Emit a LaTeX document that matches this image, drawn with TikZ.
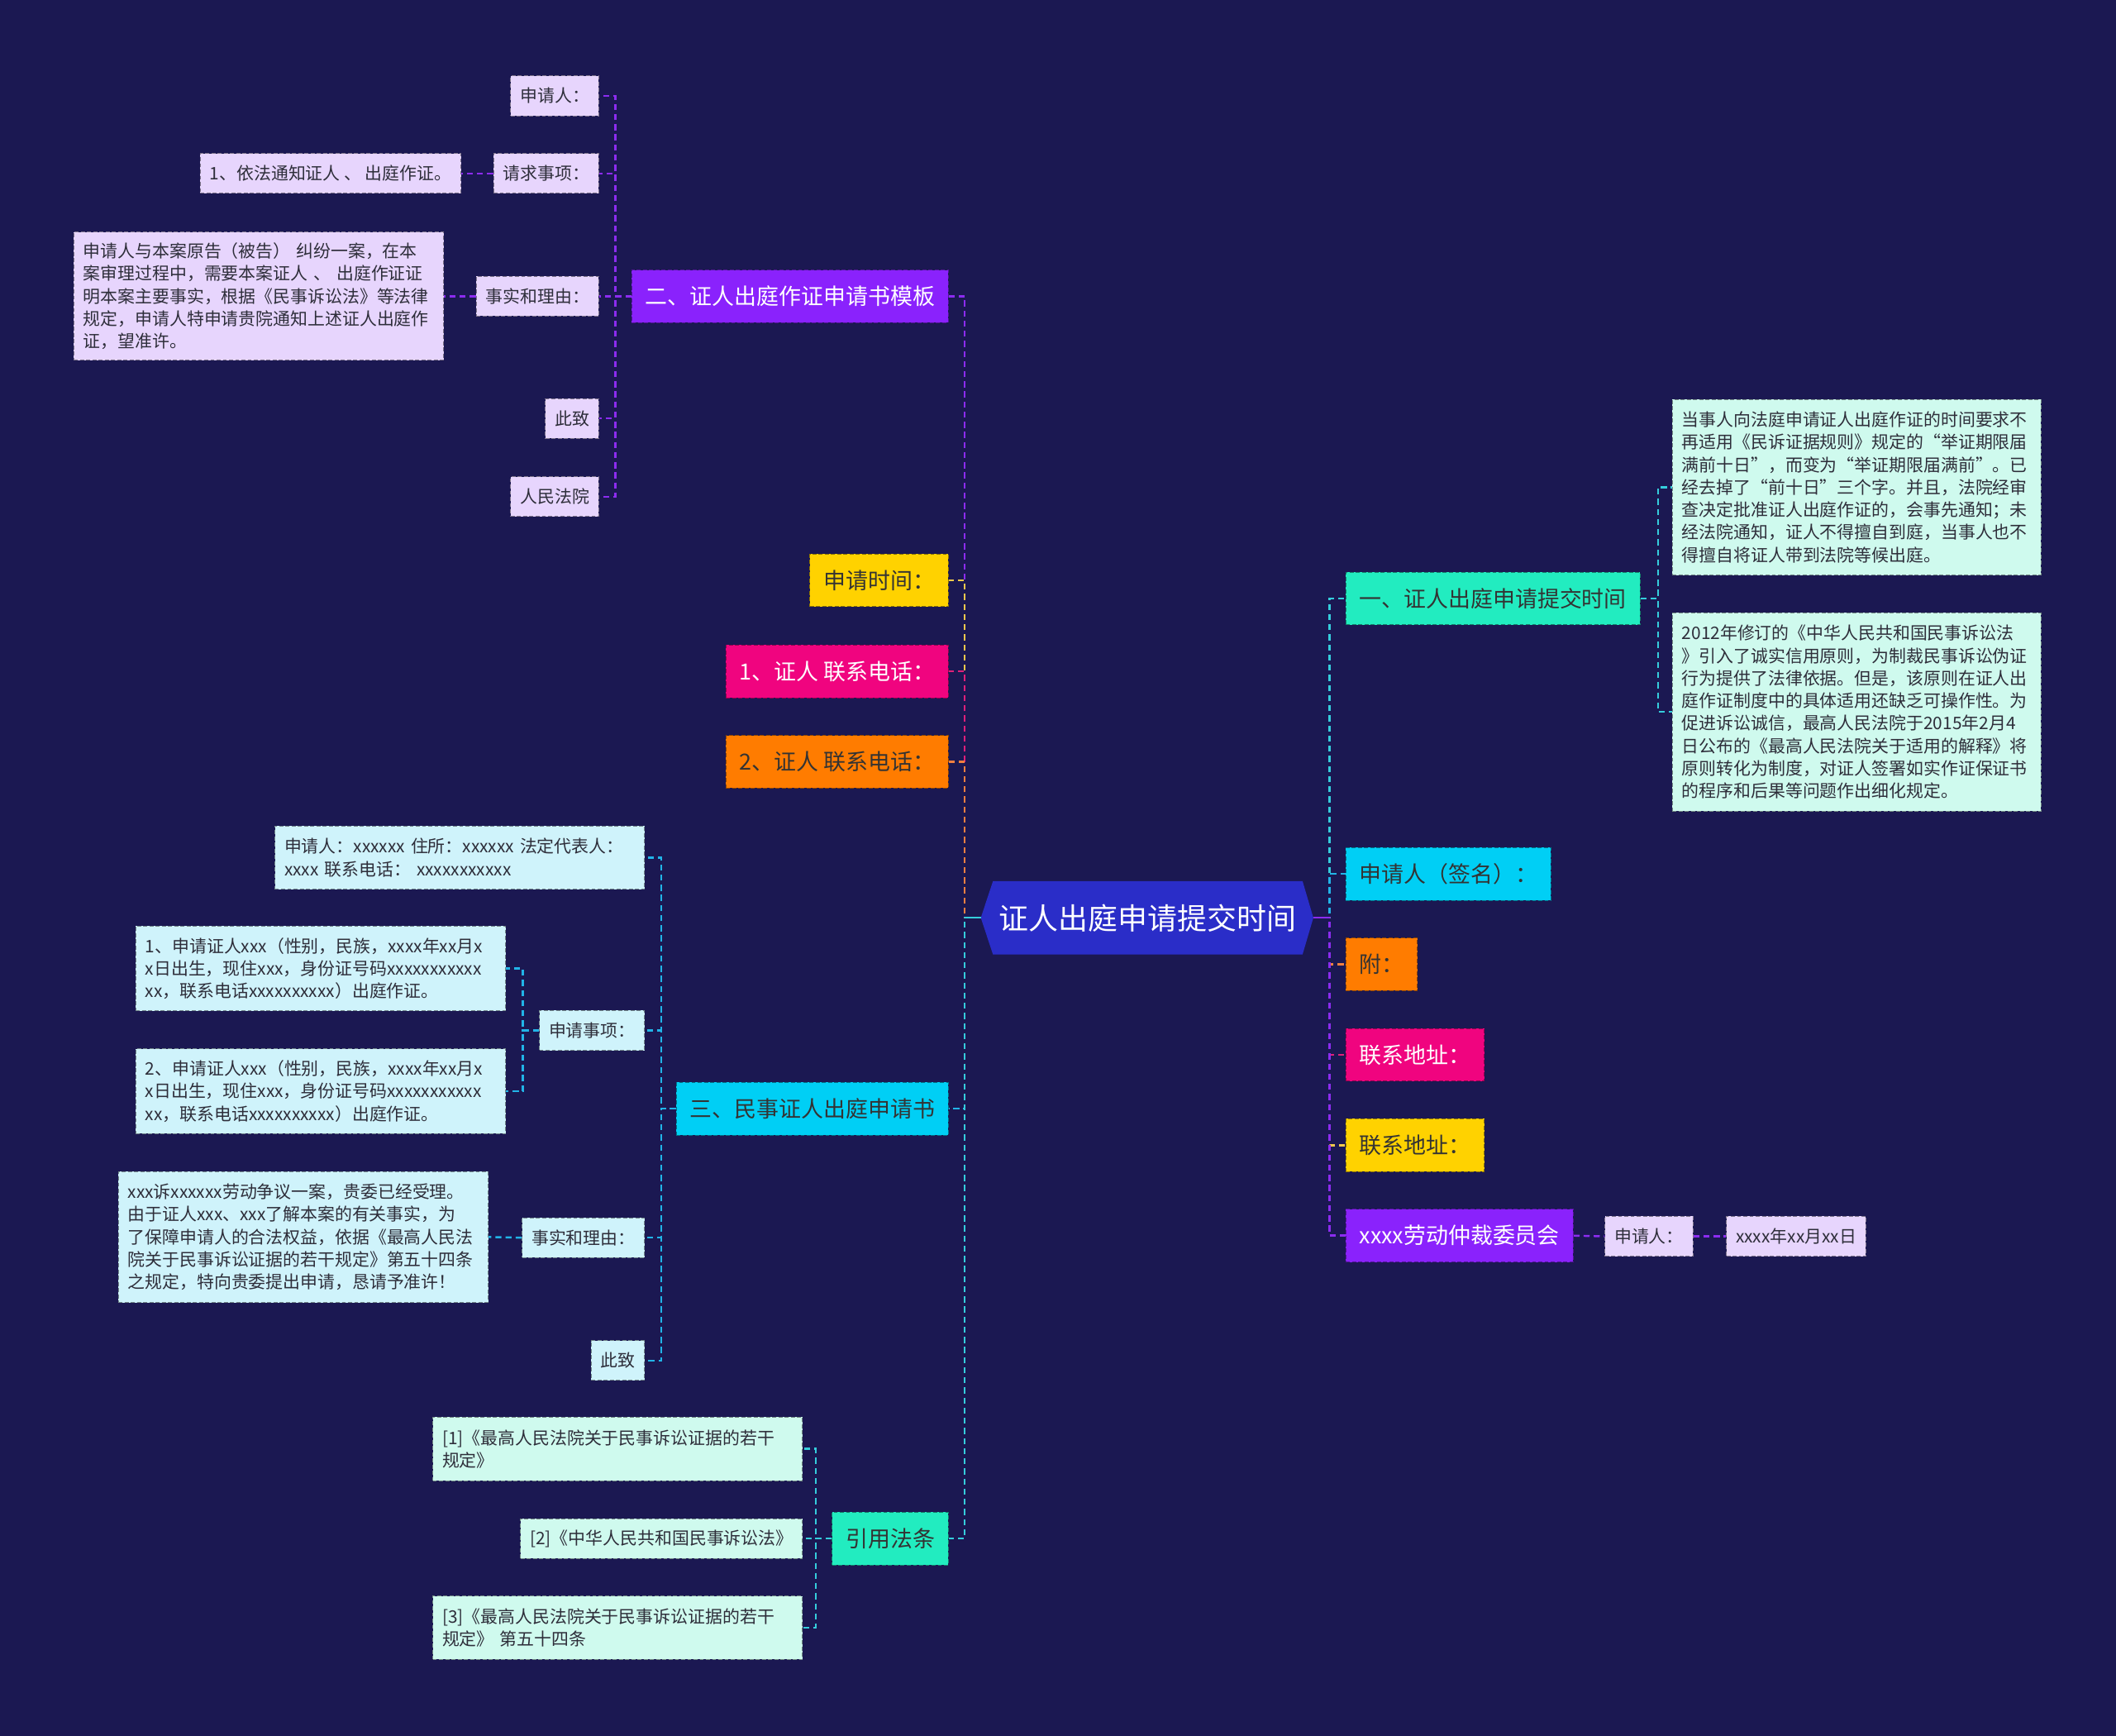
\documentclass[tikz,border=0pt]{standalone}
\usepackage{fontspec}
\setmainfont{Noto Sans CJK SC}
\usetikzlibrary{backgrounds}
\definecolor{bg}{HTML}{1B1852}
\definecolor{rootc}{HTML}{2A2DC8}
\definecolor{cpurple}{HTML}{8A22FC}
\definecolor{cyellow}{HTML}{FFD200}
\definecolor{cpink}{HTML}{F0047F}
\definecolor{corange}{HTML}{FF7C00}
\definecolor{ccyan}{HTML}{00CFF5}
\definecolor{cmint}{HTML}{22ECC0}
\definecolor{lpurple}{HTML}{E7D5FD}
\definecolor{lcyan}{HTML}{CFF3FB}
\definecolor{lmint}{HTML}{CFFAEE}
\definecolor{kpurple}{HTML}{8C2CF0}
\definecolor{kyellow}{HTML}{F2C94C}
\definecolor{kpink}{HTML}{E0207A}
\definecolor{korange}{HTML}{F08040}
\definecolor{kcyan}{HTML}{22B4E8}
\definecolor{kmint}{HTML}{35CDDC}
\definecolor{leaftext}{HTML}{2E2E3A}
\begin{document}
\begin{tikzpicture}[x=1pt,y=-1pt,
  box/.style={rectangle, dash pattern=on 3pt off 1.6pt, line width=0.6pt},
  lone/.style={box, font=\fontsize{16.5}{20}\selectfont, minimum height=39pt, inner xsep=10pt, inner ysep=0pt},
  leaf/.style={box, font=\fontsize{12.8}{16.7}\selectfont, minimum height=29.5pt, inner xsep=7pt, inner ysep=0pt, text=leaftext},
  para/.style={leaf, align=left, text width=#1},
  lp/.style={fill=lpurple, draw=lpurple!55!black},
  lc/.style={fill=lcyan, draw=lcyan!55!black},
  lm/.style={fill=lmint, draw=lmint!55!black},
  conn/.style={line width=1.5pt, dash pattern=on 4.5pt off 3pt},
  rootbox/.style={font=\fontsize{22}{26}\selectfont, text=white, minimum width=229pt, minimum height=54pt, inner sep=0pt}
]
\useasboundingbox (0,0) rectangle (1568,1286);

% ---------- root ----------
\node[rootbox] (root) at (850.5,680) {证人出庭申请提交时间};
\begin{pgfonlayer}{background}
\fill[bg] (0,0) rectangle (1568,1286);
\fill[rootc] (root.north west) -- (root.north east) -- ([xshift=8pt]root.east) -- (root.south east) -- (root.south west) -- ([xshift=-9pt]root.west) -- cycle;
\end{pgfonlayer}
\coordinate (rl) at ([xshift=-9pt]root.west);
\coordinate (rr) at ([xshift=8pt]root.east);

% ---------- left level 1 ----------
\node[lone, fill=cpurple, draw=cpurple!60!black, text=white, anchor=east] (n2) at (703,219.5) {二、证人出庭作证申请书模板};
\node[lone, fill=cyellow, draw=cyellow!55!black, text=black!80, anchor=east] (ntime) at (703,430) {申请时间：};
\node[lone, fill=cpink, draw=cpink!60!black, text=white, anchor=east] (ntel1) at (703,497.5) {1、证人 联系电话：};
\node[lone, fill=corange, draw=corange!55!black, text=black!80, anchor=east] (ntel2) at (703,564.5) {2、证人 联系电话：};
\node[lone, fill=ccyan, draw=ccyan!55!black, text=black!80, anchor=east] (n3) at (703,821.5) {三、民事证人出庭申请书};
\node[lone, fill=cmint, draw=cmint!55!black, text=black!80, anchor=east] (nlaw) at (703,1140) {引用法条};

% ---------- right level 1 ----------
\node[lone, fill=cmint, draw=cmint!55!black, text=black!80, anchor=west] (n1) at (997,443.5) {一、证人出庭申请提交时间};
\node[lone, fill=ccyan, draw=ccyan!55!black, text=black!80, anchor=west] (nsign) at (997,647.5) {申请人（签名）：};
\node[lone, fill=corange, draw=corange!55!black, text=black!80, anchor=west] (natt) at (997,714.5) {附：};
\node[lone, fill=cpink, draw=cpink!60!black, text=white, anchor=west] (naddr1) at (997,781.5) {联系地址：};
\node[lone, fill=cyellow, draw=cyellow!55!black, text=black!80, anchor=west] (naddr2) at (997,848.5) {联系地址：};
\node[lone, fill=cpurple, draw=cpurple!60!black, text=white, anchor=west] (ncomm) at (997,915.5) {xxxx劳动仲裁委员会};

% ---------- purple group (二) ----------
\node[leaf, lp, anchor=east] (p1) at (444,71) {申请人：};
\node[leaf, lp, anchor=east] (p2) at (444,128.5) {请求事项：};
\node[leaf, lp, anchor=east] (p2a) at (342,128.5) {1、依法通知证人 、 出庭作证。};
\node[leaf, lp, anchor=east] (p3) at (444,219.5) {事实和理由：};
\node[para=260pt, lp, minimum height=95pt, anchor=east] (p3a) at (329,219.5) {申请人与本案原告（被告） 纠纷一案，在本\\案审理过程中，需要本案证人 、 出庭作证证\\明本案主要事实，根据《民事诉讼法》等法律\\规定，申请人特申请贵院通知上述证人出庭作\\证，望准许。};
\node[leaf, lp, anchor=east] (p4) at (444,310) {此致};
\node[leaf, lp, anchor=east] (p5) at (444,368) {人民法院};

% ---------- cyan group (三) ----------
\node[para=260pt, lc, minimum height=47pt, anchor=east] (c1) at (478,635.5) {申请人：xxxxxx 住所：xxxxxx 法定代表人：\\xxxx 联系电话： xxxxxxxxxxx};
\node[leaf, lc, anchor=east] (c2) at (478,763.5) {申请事项：};
\node[para=260pt, lc, minimum height=63pt, anchor=east] (c2a) at (375,717.5) {1、申请证人xxx（性别，民族，xxxx年xx月x\\x日出生，现住xxx，身份证号码xxxxxxxxxxx\\xx，联系电话xxxxxxxxxx）出庭作证。};
\node[para=260pt, lc, minimum height=63pt, anchor=east] (c2b) at (375,808.5) {2、申请证人xxx（性别，民族，xxxx年xx月x\\x日出生，现住xxx，身份证号码xxxxxxxxxxx\\xx，联系电话xxxxxxxxxx）出庭作证。};
\node[leaf, lc, anchor=east] (c3) at (478,917) {事实和理由：};
\node[para=260pt, lc, minimum height=97pt, anchor=east] (c3a) at (362,916.5) {xxx诉xxxxxx劳动争议一案，贵委已经受理。\\由于证人xxx、xxx了解本案的有关事实，为\\了保障申请人的合法权益，依据《最高人民法\\院关于民事诉讼证据的若干规定》第五十四条\\之规定，特向贵委提出申请，恳请予准许！};
\node[leaf, lc, anchor=east] (c4) at (478,1008) {此致};

% ---------- mint group (引用法条) ----------
\node[para=260pt, lm, minimum height=47pt, anchor=east] (m1) at (595,1073.5) {[1]《最高人民法院关于民事诉讼证据的若干\\规定》};
\node[leaf, lm, anchor=east] (m2) at (595,1140) {[2]《中华人民共和国民事诉讼法》};
\node[para=260pt, lm, minimum height=47pt, anchor=east] (m3) at (595,1206) {[3]《最高人民法院关于民事诉讼证据的若干\\规定》 第五十四条};

% ---------- right mint group (一) ----------
\node[para=259pt, lm, minimum height=130pt, anchor=west] (r1) at (1239,361) {当事人向法庭申请证人出庭作证的时间要求不\\再适用《民诉证据规则》规定的“举证期限届\\满前十日”，而变为“举证期限届满前”。已\\经去掉了“前十日”三个字。并且，法院经审\\查决定批准证人出庭作证的，会事先通知；未\\经法院通知，证人不得擅自到庭，当事人也不\\得擅自将证人带到法院等候出庭。};
\node[para=259pt, lm, minimum height=147pt, anchor=west] (r2) at (1239,527.5) {2012年修订的《中华人民共和国民事诉讼法\\》引入了诚实信用原则，为制裁民事诉讼伪证\\行为提供了法律依据。但是，该原则在证人出\\庭作证制度中的具体适用还缺乏可操作性。为\\促进诉讼诚信，最高人民法院于2015年2月4\\日公布的《最高人民法院关于适用的解释》将\\原则转化为制度，对证人签署如实作证保证书\\的程序和后果等问题作出细化规定。};

% ---------- right purple chain ----------
\node[leaf, lp, anchor=west] (q1) at (1189,916) {申请人：};
\node[leaf, lp, anchor=west] (q2) at (1279,916) {xxxx年xx月xx日};

% ---------- connectors: root to left ----------
\draw[conn, kpurple] (rl) -- ++(-12,0) |- (n2.east);
\draw[conn, kyellow] (rl) -- ++(-12,0) |- (ntime.east);
\draw[conn, kpink] (rl) -- ++(-12,0) |- (ntel1.east);
\draw[conn, korange] (rl) -- ++(-12,0) |- (ntel2.east);
\draw[conn, kcyan] (rl) -- ++(-12,0) |- (n3.east);
\draw[conn, kmint] (rl) -- ++(-12,0) |- (nlaw.east);
\draw[line width=1.5pt, kmint] (rl) -- ++(-12,0);

% ---------- connectors: root to right ----------
\draw[conn, kmint] (rr) -- ++(12,0) |- (n1.west);
\draw[conn, kcyan] (rr) -- ++(12,0) |- (nsign.west);
\draw[conn, korange] (rr) -- ++(12,0) |- (natt.west);
\draw[conn, kpink] (rr) -- ++(12,0) |- (naddr1.west);
\draw[conn, kyellow] (rr) -- ++(12,0) |- (naddr2.west);
\draw[conn, kpurple] (rr) -- ++(12,0) |- (ncomm.west);
\draw[line width=1.5pt, kpurple] (rr) -- ++(12,0);

% ---------- purple group connectors ----------
\foreach \c in {p1,p2,p3,p4,p5}
  \draw[conn, kpurple] (n2.west) -- ++(-12,0) |- (\c.east);
\draw[conn, kpurple] (p2.west) -- (p2a.east);
\draw[conn, kpurple] (p3.west) -- (p3a.east);

% ---------- cyan group connectors ----------
\foreach \c in {c1,c2,c3,c4}
  \draw[conn, kcyan] (n3.west) -- ++(-11,0) |- (\c.east);
\foreach \c in {c2a,c2b}
  \draw[conn, kcyan] (c2.west) -- ++(-12,0) |- (\c.east);
\draw[conn, kcyan] (c3.west) -- (c3a.east);

% ---------- mint group connectors ----------
\foreach \c in {m1,m2,m3}
  \draw[conn, kmint] (nlaw.west) -- ++(-12,0) |- (\c.east);
\foreach \c in {r1,r2}
  \draw[conn, kmint] (n1.east) -- ++(13,0) |- (\c.west);

% ---------- right purple chain ----------
\draw[conn, kpurple] (ncomm.east) -- (q1.west);
\draw[conn, kpurple] (q1.east) -- (q2.west);
\end{tikzpicture}
\end{document}
